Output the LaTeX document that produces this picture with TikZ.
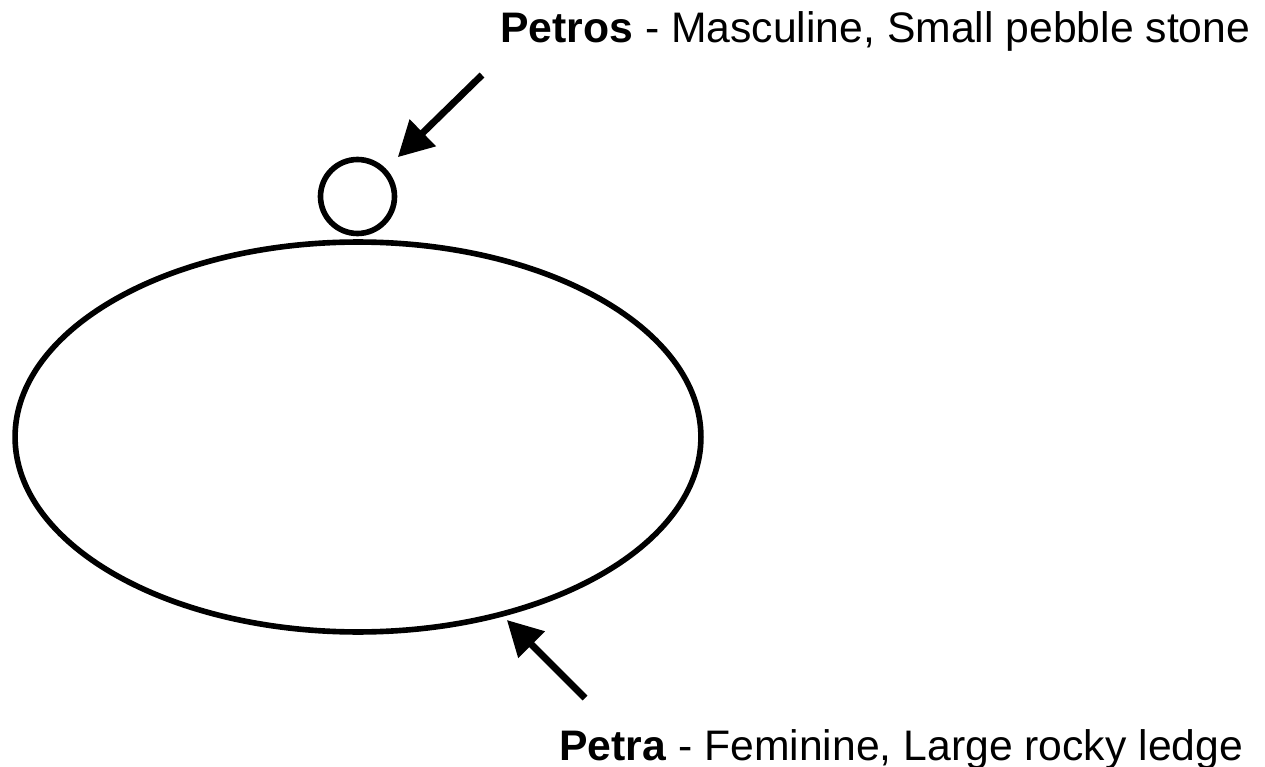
\documentclass[tikz,border=0pt]{standalone}
\usepackage{fontspec}
\setmainfont{Liberation Sans}
\usetikzlibrary{arrows.meta,shapes.geometric}

\begin{document}
\begin{tikzpicture}[
    x=0.02cm, y=-0.02cm,
    rock node/.style={draw=black, line width=3.2pt, inner sep=0pt},
    label node/.style={anchor=base west, inner sep=0pt, font=\fontsize{24.3pt}{29pt}\selectfont},
    pointer/.style={line width=3.9pt, draw=black, -{Triangle[length=0.7cm, width=0.72cm]}}
]
\useasboundingbox (0,0) rectangle (1265,767);

% stones
\node[rock node, circle, minimum size=1.48cm] (pebble) at (357.5,196.5) {};
\node[rock node, ellipse, minimum width=13.72cm, minimum height=7.8cm] (ledge) at (358,437) {};

% labels
\node[label node] (petros) at (500,43) {\textbf{Petros} - Masculine, Small pebble stone};
\node[label node] (petra) at (559,760) {\textbf{Petra} - Feminine, Large rocky ledge};

% arrows
\coordinate (petros tail) at (482,75);
\coordinate (petra tail) at (585,698);
\draw[pointer, shorten >=0.33cm] (petros tail) -- (pebble);
\draw[pointer, shorten >=0.1cm] (petra tail) -- (ledge.-51.6);

\end{tikzpicture}
\end{document}
